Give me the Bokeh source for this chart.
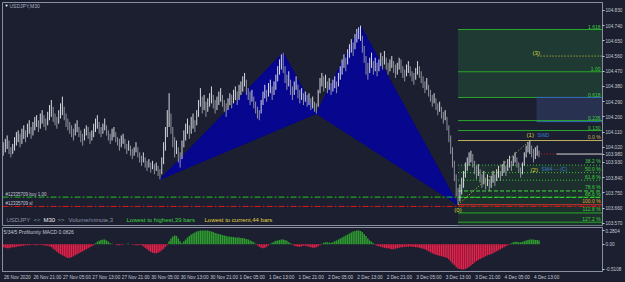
from bokeh.plotting import figure
from bokeh.models import FixedTicker, Range1d, Label, NumeralTickFormatter, CustomJSTickFormatter
from bokeh.layouts import column
from bokeh.embed import file_html
from bokeh.resources import INLINE

# ---------------- data ----------------
lows = [
    103.97,103.99,104.01,103.98,103.96,103.98,104.00,104.03,104.05,104.02,
    104.04,104.07,104.05,104.08,104.10,104.07,104.09,104.12,104.14,104.11,
    104.13,104.16,104.14,104.12,104.15,104.18,104.20,104.17,104.15,104.13,
    104.16,104.19,104.21,104.18,104.14,104.12,104.10,104.08,104.06,104.09,
    104.11,104.08,104.05,104.03,104.06,104.09,104.07,104.04,104.06,104.08,
    104.11,104.13,104.10,104.08,104.10,104.12,104.09,104.06,104.04,104.06,
    104.08,104.05,104.03,104.00,104.02,104.04,104.01,103.98,104.00,103.97,
    103.95,103.97,103.99,103.96,103.93,103.91,103.93,103.90,103.88,103.90,
    103.87,103.89,103.86,103.88,103.85,103.83,103.86,103.92,104.00,104.08,
    104.14,104.10,104.02,103.96,103.98,103.93,103.90,103.95,104.02,104.06,
    104.10,104.07,104.10,104.13,104.11,104.15,104.20,104.26,104.22,104.24,
    104.20,104.23,104.26,104.28,104.25,104.22,104.24,104.27,104.29,104.26,
    104.23,104.20,104.24,104.27,104.25,104.28,104.30,104.27,104.30,104.33,
    104.35,104.38,104.33,104.30,104.27,104.29,104.25,104.22,104.19,104.18,
    104.22,104.27,104.31,104.29,104.32,104.34,104.30,104.33,104.36,104.41,
    104.45,104.48,104.46,104.40,104.36,104.38,104.33,104.30,104.33,104.36,
    104.31,104.28,104.30,104.27,104.29,104.26,104.27,104.24,104.25,104.23,
    104.22,104.26,104.34,104.38,104.35,104.37,104.34,104.36,104.33,104.35,
    104.37,104.34,104.38,104.42,104.45,104.49,104.47,104.51,104.55,104.58,
    104.56,104.60,104.64,104.66,104.65,104.58,104.52,104.45,104.42,104.46,
    104.49,104.45,104.47,104.44,104.47,104.50,104.48,104.51,104.48,104.45,
    104.47,104.49,104.46,104.43,104.45,104.48,104.46,104.43,104.41,104.44,
    104.46,104.44,104.41,104.39,104.42,104.45,104.43,104.40,104.37,104.34,
    104.36,104.32,104.29,104.26,104.28,104.24,104.21,104.23,104.19,104.16,
    104.18,104.12,104.05,103.98,103.90,103.82,103.73,103.68,103.70,103.74,
    103.78,103.84,103.88,103.91,103.93,103.90,103.86,103.83,103.85,103.81,
    103.78,103.80,103.77,103.79,103.76,103.78,103.81,103.79,103.82,103.84,
    103.82,103.85,103.87,103.85,103.88,103.90,103.88,103.91,103.93,103.90,
    103.87,103.84,103.86,103.91,103.96,103.99,103.98,103.96,103.93,103.95,
    103.97,103.96,
]
highs = [
    104.05,104.07,104.09,104.06,104.02,104.04,104.08,104.11,104.12,104.10,
    104.13,104.15,104.12,104.16,104.18,104.14,104.17,104.20,104.21,104.18,
    104.22,104.24,104.21,104.19,104.23,104.27,104.30,104.26,104.22,104.20,
    104.24,104.28,104.32,104.26,104.22,104.19,104.17,104.15,104.13,104.16,
    104.18,104.14,104.12,104.10,104.13,104.15,104.14,104.11,104.12,104.16,
    104.19,104.21,104.17,104.14,104.16,104.19,104.15,104.12,104.10,104.13,
    104.14,104.11,104.08,104.07,104.09,104.10,104.07,104.04,104.06,104.03,
    104.01,104.02,104.05,104.02,103.99,103.97,103.99,103.96,103.94,103.95,
    103.93,103.94,103.92,103.93,103.91,103.89,103.96,104.05,104.14,104.24,
    104.34,104.22,104.14,104.08,104.06,104.02,103.99,104.06,104.12,104.16,
    104.19,104.15,104.20,104.22,104.18,104.24,104.30,104.37,104.32,104.33,
    104.29,104.31,104.34,104.38,104.33,104.30,104.32,104.35,104.37,104.33,
    104.30,104.28,104.31,104.34,104.33,104.36,104.38,104.35,104.39,104.41,
    104.44,104.46,104.42,104.37,104.35,104.36,104.32,104.29,104.26,104.24,
    104.30,104.35,104.39,104.36,104.40,104.42,104.38,104.41,104.45,104.50,
    104.54,104.57,104.58,104.50,104.45,104.47,104.42,104.38,104.41,104.44,
    104.39,104.36,104.37,104.34,104.35,104.33,104.34,104.31,104.32,104.29,
    104.28,104.36,104.43,104.46,104.44,104.45,104.41,104.43,104.40,104.42,
    104.44,104.41,104.46,104.50,104.54,104.57,104.55,104.60,104.63,104.66,
    104.64,104.69,104.72,104.73,104.74,104.68,104.62,104.56,104.52,104.55,
    104.58,104.53,104.55,104.52,104.54,104.58,104.56,104.59,104.55,104.52,
    104.54,104.56,104.53,104.51,104.52,104.55,104.54,104.50,104.48,104.51,
    104.53,104.50,104.47,104.46,104.49,104.53,104.50,104.47,104.44,104.41,
    104.43,104.39,104.36,104.33,104.34,104.31,104.28,104.29,104.26,104.23,
    104.24,104.20,104.15,104.09,104.02,103.94,103.86,103.78,103.80,103.84,
    103.88,103.93,103.96,103.99,104.00,103.98,103.94,103.91,103.92,103.89,
    103.86,103.88,103.84,103.86,103.83,103.85,103.88,103.86,103.89,103.91,
    103.88,103.92,103.94,103.91,103.95,103.97,103.94,103.97,103.99,103.96,
    103.93,103.90,103.93,103.99,104.03,104.05,104.06,104.03,104.01,104.02,
    104.03,104.00,
]
macd = [
    -0.06,-0.07,-0.08,-0.08,-0.07,-0.06,-0.06,-0.05,-0.04,-0.04,
    -0.03,-0.03,-0.02,-0.02,-0.02,-0.01,-0.01,-0.02,-0.02,-0.01,-0.01,-0.02,-0.02,-0.03,-0.03,-0.04,
    -0.06,-0.09,-0.12,-0.15,-0.18,-0.20,-0.22,-0.24,-0.26,-0.28,-0.27,-0.26,-0.24,-0.22,-0.20,-0.18,
    -0.16,-0.14,-0.12,-0.10,-0.08,-0.06,-0.04,-0.02,
    0.02,0.05,0.07,0.09,0.10,0.10,0.08,0.05,0.02,
    0.01,0.00,-0.01,-0.02,-0.02,-0.01,-0.01,0.00,0.01,0.01,0.00,-0.01,-0.01,-0.02,-0.02,-0.01,-0.02,
    -0.04,-0.07,-0.10,-0.13,-0.15,-0.17,-0.18,-0.18,-0.17,-0.15,-0.12,-0.09,-0.05,-0.02,
    0.06,0.12,0.16,0.18,0.17,0.12,0.06,0.02,
    0.06,0.10,0.14,0.17,0.20,0.22,0.24,0.26,0.27,0.28,0.28,0.28,0.28,0.28,0.27,0.26,0.25,0.23,0.22,
    0.21,0.20,0.19,0.18,0.17,0.16,0.16,0.15,0.15,0.14,0.14,0.14,0.13,0.13,0.12,0.11,0.10,0.08,0.06,0.04,
    0.01,-0.02,-0.05,-0.07,-0.08,-0.07,-0.05,-0.02,
    0.01,0.03,0.05,0.07,0.08,0.09,0.10,0.10,0.09,0.07,0.04,0.02,
    -0.01,-0.03,-0.04,-0.05,-0.05,-0.04,-0.03,-0.03,-0.04,-0.05,-0.06,-0.07,-0.07,-0.06,-0.04,-0.02,
    0.01,0.03,0.04,0.04,0.03,0.03,0.04,0.06,
    0.08,0.10,0.12,0.14,0.16,0.18,0.20,0.22,0.24,0.26,0.27,0.28,0.28,0.27,0.25,0.21,0.17,0.12,0.08,0.05,0.02,
    -0.01,-0.03,-0.04,-0.05,-0.06,-0.07,-0.08,-0.08,-0.09,-0.10,-0.10,-0.09,-0.08,
    -0.07,-0.06,-0.06,-0.05,-0.05,-0.05,-0.04,-0.05,-0.05,-0.06,-0.06,-0.07,-0.08,-0.09,-0.10,-0.12,
    -0.14,-0.16,-0.18,-0.20,-0.21,-0.22,-0.23,-0.24,-0.25,-0.26,-0.28,-0.31,-0.35,-0.39,
    -0.42,-0.46,-0.49,-0.50,-0.51,-0.51,-0.50,-0.48,-0.46,-0.43,-0.40,-0.37,-0.34,-0.32,
    -0.30,-0.28,-0.26,-0.24,-0.22,-0.21,-0.20,-0.18,-0.16,-0.14,-0.12,-0.10,-0.08,-0.06,-0.04,-0.02,-0.01,
    0.02,0.04,0.05,0.05,0.04,0.04,0.05,0.06,0.08,0.09,0.10,0.10,0.10,0.09,0.09,0.08,
]
price_ticks = [104.830, 104.740, 104.650, 104.560, 104.470, 104.380, 104.290, 104.200,
               104.110, 104.020, 103.930, 103.840, 103.750, 103.660, 103.570]
macd_ticks = [0.2804, 0.0, -0.5108]
time_labels = ["26 Nov 2020", "26 Nov 21:00", "27 Nov 05:00", "27 Nov 13:00", "27 Nov 21:00",
               "30 Nov 05:00", "30 Nov 13:00", "30 Nov 21:00", "1 Dec 05:00", "1 Dec 13:00",
               "1 Dec 21:00", "2 Dec 05:00", "2 Dec 13:00", "2 Dec 21:00", "3 Dec 05:00",
               "3 Dec 13:00", "3 Dec 21:00", "4 Dec 05:00", "4 Dec 13:00"]
bars_per_label = 16
pattern_bars = [85, 152, 170, 194]          # X, A, B, C ; D = lowest low
buy_level = 103.725
sl_level = 103.670
target_level = 104.56
expansion_levels = [104.717, 104.467, 104.315, 104.178, 104.119]
expansion_texts = ["1.618", "1.00", "0.618", "0.236", "0.130"]
retr_ratios = [0.0, 0.382, 0.5, 0.618, 0.786, 0.886, 1.0, 1.128, 1.272]
retr_texts = ["0.0 %", "38.2 %", "50.0 %", "61.8 %", "78.6 %", "88.6 %", "100.0 %", "112.8 %", "127.2 %"]
current_price = 103.980

n = len(lows)
if len(highs) != n or len(macd) != n:
    raise SystemExit(f"length mismatch lows={n} highs={len(highs)} macd={len(macd)}")
xs = list(range(n))

# ---------------- styles ----------------
BG = "#1b1f30"
FRAME = "#8a8fa0"
TXT = "#c4c8d2"
GREEN = "#2aa82a"
FONT = "Liberation Sans"
AXFS = 4.7
X0, X1 = -0.54, 325.5
Y0, Y1 = 103.557, 104.877
PX_PER_BAR = 1.84


def bx(px):   # horizontal screen pixel -> bar index (for annotation placement)
    return (px - 3) / PX_PER_BAR


def py(px):   # vertical screen pixel -> price (for annotation placement)
    return Y1 - (px - 2) * (Y1 - Y0) / 223.0


p = figure(width=625, height=226, x_range=Range1d(X0, X1), y_range=Range1d(Y0, Y1),
           output_backend="svg", toolbar_location=None, x_axis_location=None,
           y_axis_location="right", min_border_left=2, min_border_right=23,
           min_border_top=2, min_border_bottom=1, background_fill_color=BG,
           border_fill_color=BG, outline_line_color=FRAME)
p.grid.visible = False
ya = p.yaxis[0]
ya.ticker = FixedTicker(ticks=price_ticks + [current_price])
ya.formatter = NumeralTickFormatter(format="0.000")
ya.axis_line_color = FRAME
ya.major_tick_line_color = TXT
ya.major_tick_out = 2
ya.major_tick_in = 0
ya.minor_tick_line_color = None
ya.major_label_text_font_size = f"{AXFS}px"
ya.major_label_text_color = TXT
ya.major_label_text_font = FONT
ya.major_label_standoff = 1

# ---------------- harmonic pattern ----------------
iX, iA, iB, iC = pattern_bars
iD = min(range(n), key=lambda i: lows[i])
pX, pA, pB, pC, pD = lows[iX], highs[iA], lows[iB], highs[iC], lows[iD]
p.patches(xs=[[iX, iA, iB], [iB, iC, iD]], ys=[[pX, pA, pB], [pB, pC, pD]],
          fill_color="#06068e", line_color="#06068e", line_width=1)

# ---------------- fib zones ----------------
i1 = max(range(iD, n), key=lambda i: highs[i])
p1 = highs[i1]
rng = p1 - pD
retr = [p1 - r * rng for r in retr_ratios]
RIGHT = X1 + 10

p.quad(left=[iD, iD], right=[RIGHT, RIGHT], top=expansion_levels[0:2], bottom=expansion_levels[1:3],
       fill_color="#1f3a33", line_color=None)
p.quad(left=[bx(536)], right=[RIGHT], top=[expansion_levels[2]], bottom=[expansion_levels[3]],
       fill_color="#283150", line_color=None)
p.quad(left=[iD], right=[RIGHT], top=[retr[1]], bottom=[Y0], fill_color="#1d302d", line_color=None)

p.segment(x0=[iD] * 5, x1=[RIGHT] * 5, y0=expansion_levels, y1=expansion_levels,
          line_color=GREEN, line_width=1)
p.segment(x0=[bx(536)] * 2, x1=[RIGHT] * 2, y0=[expansion_levels[2], expansion_levels[3] - 0.006],
          y1=[expansion_levels[2], expansion_levels[3] - 0.006], line_color="#3566b8", line_width=1)
p.segment(x0=[iD], x1=[RIGHT], y0=[retr[0]], y1=[retr[0]], line_color="#c2b060", line_width=1)
p.segment(x0=[iD] * 3, x1=[RIGHT] * 3, y0=retr[1:4], y1=retr[1:4], line_color="#3fbf3f",
          line_width=1, line_dash="1 2")
p.segment(x0=[iD] * 2, x1=[RIGHT] * 2, y0=retr[4:6], y1=retr[4:6], line_color="#44d844",
          line_width=1, line_dash="4 2")
p.segment(x0=[iD], x1=[RIGHT], y0=[retr[6]], y1=[retr[6]], line_color="#d83030", line_width=1)
p.segment(x0=[iD] * 2, x1=[RIGHT] * 2, y0=retr[7:9], y1=retr[7:9], line_color=GREEN, line_width=1)

# order lines
p.segment(x0=[X0], x1=[RIGHT], y0=[buy_level], y1=[buy_level], line_color="#22c022",
          line_width=1, line_dash="6 2 2 2")
p.segment(x0=[X0], x1=[RIGHT], y0=[sl_level], y1=[sl_level], line_color="#e01818",
          line_width=1, line_dash="6 2 2 2")

# target (3)
p.segment(x0=[bx(537)], x1=[RIGHT], y0=[target_level], y1=[target_level], line_color="#d0d040",
          line_width=1, line_dash="1 2")

# current price line
p.segment(x0=[n], x1=[bx(556)], y0=[current_price], y1=[current_price], line_color="#e02020",
          line_width=1, line_dash="1 2")
p.segment(x0=[bx(556)], x1=[RIGHT], y0=[current_price], y1=[current_price], line_color="#d8d8d8",
          line_width=1)

# ---------------- candles ----------------
mids = [(a + b) / 2 for a, b in zip(lows, highs)]
cols = ["#d6d8de" if i > 0 and mids[i] >= mids[i - 1] else "#8f939d" for i in range(n)]
p.segment(x0=xs, x1=xs, y0=lows, y1=highs, line_color=cols, line_width=1)

# wave dotted line (0)->(1)
p.line(x=[iD, i1], y=[pD, p1], line_color="#c8c840", line_width=1, line_dash="1 2")


def lab(fig, x, y, t, color=TXT, size="5px", align="left", base="middle", bg=None, style="normal"):
    fig.add_layout(Label(x=x, y=y, text=t, text_color=color, text_font_size=size, text_font=FONT,
                         text_align=align, text_baseline=base, background_fill_color=bg,
                         text_font_style=style))


for lv, t in zip(expansion_levels, expansion_texts):
    lab(p, bx(600), lv + 0.004, t, color="#3ccf3c", align="right", base="bottom")
retr_cols = ["#c8b450"] + ["#3ccf3c"] * 5 + ["#e0a030"] + ["#3ccf3c"] * 2
for lv, t, c in zip(retr, retr_texts, retr_cols):
    lab(p, bx(600), lv + 0.004, t, color=c, align="right", base="bottom")

lab(p, bx(532), target_level + 0.02, "(3)", color="#d8d840", size="6px")
lab(p, bx(526), p1 + 0.03, "(1)", color="#d8d840", size="6px")
lab(p, bx(537), p1 + 0.03, "SWD", color="#3a7bd5", size="5px")
lab(p, bx(530), py(169), "(2)", color="#d8d840", size="6px")
lab(p, bx(541), py(168), "SW4 --- (C)", color="#3a7bd5", size="5px")
lab(p, iD, pD - 0.012, "(0)", color="#d8d840", size="6px", align="center", base="top")

lab(p, bx(4), py(5), "\u25bc", color="#ffffff", size="4px")
lab(p, bx(9), py(5), "USDJPY,M30", color="#a8b0c0", size="5px")
lab(p, bx(5), buy_level + 0.003, "#12335709 buy 1.00", color=TXT, size="4.5px", base="bottom")
lab(p, bx(5), sl_level + 0.003, "#12335709 sl", color=TXT, size="4.5px", base="bottom")

lowest_to_highest = i1 - iD
lowest_to_current = (n - 1) - iD
yrow = py(219)
lab(p, bx(6), yrow, "USDJPY", color="#8d93a6", size="6px")
lab(p, bx(33), yrow, "<<", color="#8d93a6", size="6px")
lab(p, bx(43), yrow, "M30", color="#e8e8f0", size="6px")
lab(p, bx(57), yrow, ">>", color="#8d93a6", size="6px")
lab(p, bx(68), yrow, "Volume/minute,3", color="#8d93a6", size="6px")
lab(p, bx(126), yrow, f"Lowest to highest,{lowest_to_highest} bars", color="#3cd23c", size="6px")
lab(p, bx(204), yrow, f"Lowest to current,{lowest_to_current} bars", color="#e0d040", size="6px")

# ---------------- MACD pane ----------------
M0, M1 = -0.5514, 0.3413
q = figure(width=625, height=56, x_range=p.x_range, y_range=Range1d(M0, M1),
           output_backend="svg", toolbar_location=None, x_axis_location="below",
           y_axis_location="right", min_border_left=2, min_border_right=23,
           min_border_top=1, min_border_bottom=10, background_fill_color=BG,
           border_fill_color=BG, outline_line_color=FRAME)
q.grid.visible = False
mcols = ["#2e9e2e" if v >= 0 else "#e8204a" for v in macd]
q.vbar(x=xs, top=macd, bottom=0, width=0.8, fill_color=mcols, line_color=None)

qy = q.yaxis[0]
qy.ticker = FixedTicker(ticks=macd_ticks)
qy.formatter = CustomJSTickFormatter(code="return tick == 0 ? '0.00' : tick.toFixed(4)")

# time labels: MT4 draws them starting at the tick, so shift each label centre by half its width
CW = {"0": .556, "1": .556, "2": .556, "3": .556, "4": .556, "5": .556, "6": .556, "7": .556,
      "8": .556, "9": .556, " ": .278, ":": .278, "N": .722, "o": .556, "v": .5, "D": .722,
      "e": .556, "c": .5}
label_ticks = []
for k, s in enumerate(time_labels):
    w = sum(CW.get(ch, .55) for ch in s) * AXFS
    label_ticks.append(k * bars_per_label + (w / 2 + 0.5) / PX_PER_BAR)
qx = q.xaxis[0]
qx.ticker = FixedTicker(ticks=label_ticks)
qx.formatter = CustomJSTickFormatter(args=dict(labels=time_labels, step=bars_per_label),
                                     code="return labels[Math.floor(tick / step + 1e-6)]")
qx.major_tick_line_color = None
for ax in (qx, qy):
    ax.axis_line_color = FRAME
    ax.major_tick_out = 2
    ax.major_tick_in = 0
    ax.minor_tick_line_color = None
    ax.major_label_text_font_size = f"{AXFS}px"
    ax.major_label_text_color = TXT
    ax.major_label_text_font = FONT
    ax.major_label_standoff = 1
qy.major_tick_line_color = TXT

q.add_layout(Label(x=bx(3), y=M1 - 0.04, text="5/34/5 Profitunity MACD 0.0826", text_color=TXT,
                   text_font_size="5px", text_font=FONT, text_baseline="top"))

layout = column(p, q, spacing=0, styles={"background-color": BG})
open("out.html", "w").write(file_html(layout, INLINE))
